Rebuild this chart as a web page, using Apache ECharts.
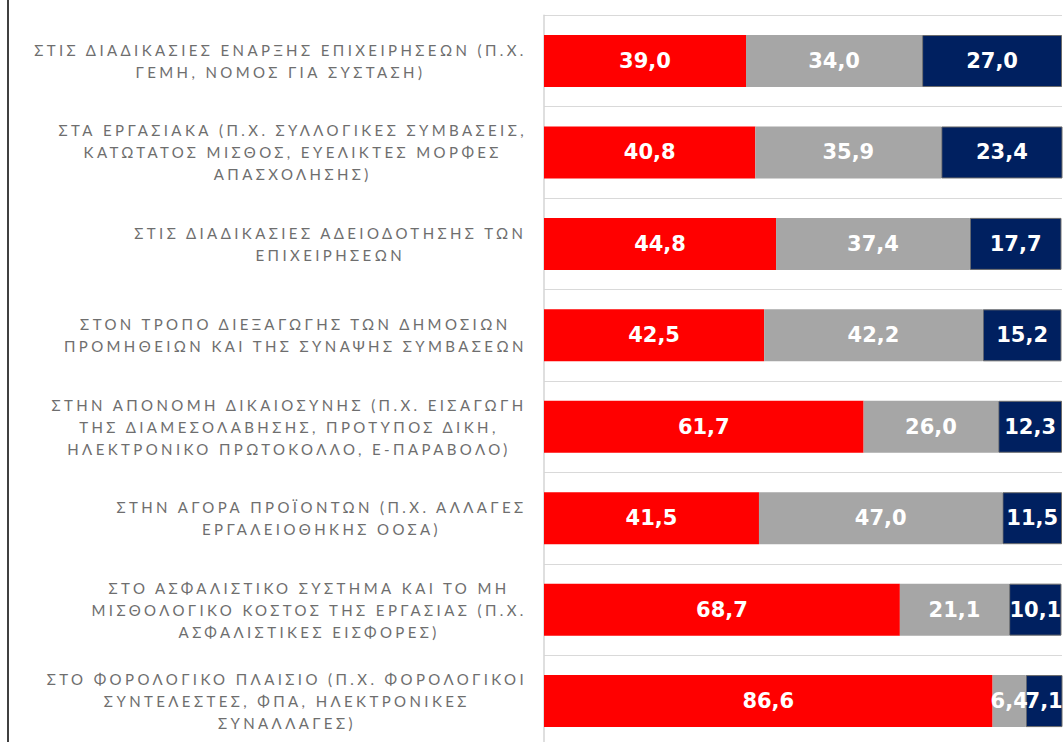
<!DOCTYPE html>
<html>
<head>
<meta charset="utf-8">
<script src="https://cdn.jsdelivr.net/npm/echarts@6/dist/echarts.min.js"></script>
<style>
html,body{margin:0;padding:0;background:#fff;}
#c{width:1063px;height:742px;position:relative;}
#edge{position:absolute;left:7px;top:0;width:2px;height:742px;background:#404040;}
#c text[style*="Lato"], #c text[fill="#6e6e6e"]{letter-spacing:3.4px;}
</style>
</head>
<body>
<div id="c"></div>
<div id="edge"></div>
<script>
const categories = [
  "ΣΤΙΣ ΔΙΑΔΙΚΑΣΙΕΣ ΕΝΑΡΞΗΣ ΕΠΙΧΕΙΡΗΣΕΩΝ (Π.Χ.\nΓΕΜΗ, ΝΟΜΟΣ ΓΙΑ ΣΥΣΤΑΣΗ)",
  "ΣΤΑ ΕΡΓΑΣΙΑΚΑ (Π.Χ. ΣΥΛΛΟΓΙΚΕΣ ΣΥΜΒΑΣΕΙΣ,\nΚΑΤΩΤΑΤΟΣ ΜΙΣΘΟΣ, ΕΥΕΛΙΚΤΕΣ ΜΟΡΦΕΣ\nΑΠΑΣΧΟΛΗΣΗΣ)",
  "ΣΤΙΣ ΔΙΑΔΙΚΑΣΙΕΣ ΑΔΕΙΟΔΟΤΗΣΗΣ ΤΩΝ\nΕΠΙΧΕΙΡΗΣΕΩΝ",
  "ΣΤΟΝ ΤΡΟΠΟ ΔΙΕΞΑΓΩΓΗΣ ΤΩΝ ΔΗΜΟΣΙΩΝ\nΠΡΟΜΗΘΕΙΩΝ ΚΑΙ ΤΗΣ ΣΥΝΑΨΗΣ ΣΥΜΒΑΣΕΩΝ",
  "ΣΤΗΝ ΑΠΟΝΟΜΗ ΔΙΚΑΙΟΣΥΝΗΣ (Π.Χ. ΕΙΣΑΓΩΓΗ\nΤΗΣ ΔΙΑΜΕΣΟΛΑΒΗΣΗΣ, ΠΡΟΤΥΠΟΣ ΔΙΚΗ,\nΗΛΕΚΤΡΟΝΙΚΟ ΠΡΩΤΟΚΟΛΛΟ, Ε-ΠΑΡΑΒΟΛΟ)",
  "ΣΤΗΝ ΑΓΟΡΑ ΠΡΟΪΟΝΤΩΝ (Π.Χ. ΑΛΛΑΓΕΣ\nΕΡΓΑΛΕΙΟΘΗΚΗΣ ΟΟΣΑ)",
  "ΣΤΟ ΑΣΦΑΛΙΣΤΙΚΟ ΣΥΣΤΗΜΑ ΚΑΙ ΤΟ ΜΗ\nΜΙΣΘΟΛΟΓΙΚΟ ΚΟΣΤΟΣ ΤΗΣ ΕΡΓΑΣΙΑΣ (Π.Χ.\nΑΣΦΑΛΙΣΤΙΚΕΣ ΕΙΣΦΟΡΕΣ)",
  "ΣΤΟ ΦΟΡΟΛΟΓΙΚΟ ΠΛΑΙΣΙΟ (Π.Χ. ΦΟΡΟΛΟΓΙΚΟΙ\nΣΥΝΤΕΛΕΣΤΕΣ, ΦΠΑ, ΗΛΕΚΤΡΟΝΙΚΕΣ\nΣΥΝΑΛΛΑΓΕΣ)"
];
const seriesNames = ["Αρνητικά", "Ουδέτερα", "Θετικά"];
const redValues  = [39.0, 40.8, 44.8, 42.5, 61.7, 41.5, 68.7, 86.6];
const grayValues = [34.0, 35.9, 37.4, 42.2, 26.0, 47.0, 21.1, 6.4];
const navyValues = [27.0, 23.4, 17.7, 15.2, 12.3, 11.5, 10.1, 7.1];

const SPACING = 3.4;
const mctx = document.createElement('canvas').getContext('2d');
echarts.setPlatformAPI({
  measureText: function (text, font) {
    mctx.font = font || '12px sans-serif';
    let w = mctx.measureText(text).width;
    if (font && font.indexOf('Lato') >= 0) w += SPACING * text.length;
    return { width: w };
  }
});

const chart = echarts.init(document.getElementById('c'), null, { renderer: 'svg' });
const fmt = p => p.value.toFixed(1).replace('.', ',');
const labelStyle = {
  show: true, position: 'inside', color: '#fff',
  fontFamily: 'DejaVu Sans', fontWeight: 'bold', fontSize: 21,
  formatter: fmt
};
function mk(name, data, color, border) {
  return {
    name: name, type: 'bar', stack: 'all', data: data, barWidth: 52,
    itemStyle: border ? { color: color, borderColor: '#6b6b6b', borderWidth: 1 } : { color: color },
    label: labelStyle
  };
}
chart.setOption({
  animation: false,
  grid: { left: 544, top: 15.3, width: 518, height: 731.5, outerBoundsMode: 'none', containLabel: false },
  xAxis: {
    type: 'value', min: 0, max: 100,
    show: false
  },
  yAxis: {
    type: 'category', inverse: true, data: categories,
    axisTick: { show: false },
    axisLine: { show: true, lineStyle: { color: '#d4d4d4', width: 1.5 } },
    splitLine: { show: true, lineStyle: { color: '#d9d9d9', width: 1.2 } },
    axisLabel: {
      margin: 17, align: 'right',
      color: '#6e6e6e', fontFamily: 'Lato', fontSize: 15, lineHeight: 22,
      formatter: v => '{c|' + v + '}',
      rich: { c: { align: 'center', color: '#6e6e6e', fontFamily: 'Lato', fontSize: 15, lineHeight: 22 } }
    }
  },
  series: [
    mk(seriesNames[0], redValues, '#ff0000', false),
    mk(seriesNames[1], grayValues, '#a6a6a6', false),
    mk(seriesNames[2], navyValues, '#002060', true)
  ]
});
</script>
</body>
</html>
